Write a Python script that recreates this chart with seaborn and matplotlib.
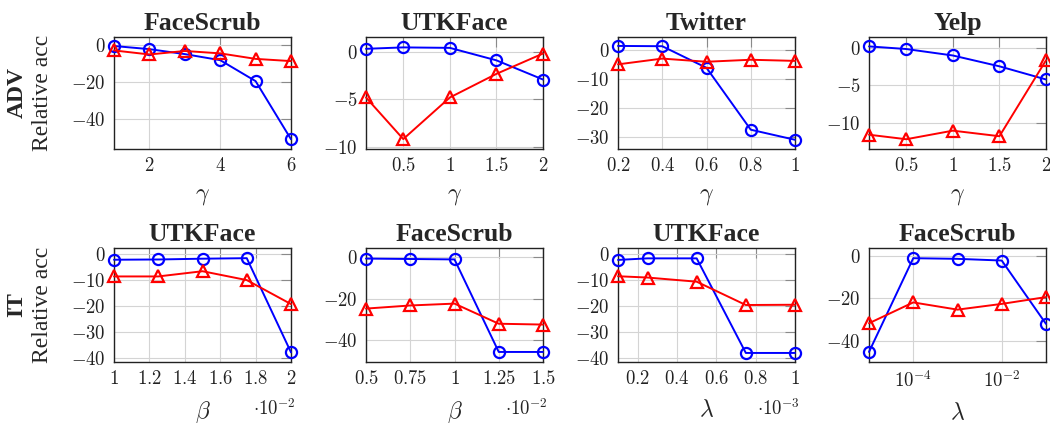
import matplotlib
matplotlib.use("Agg")
import matplotlib.pyplot as plt
import seaborn as sns
import pandas as pd

# ---------------- data ----------------
titles = ["FaceScrub", "UTKFace", "Twitter", "Yelp",
          "UTKFace", "FaceScrub", "UTKFace", "FaceScrub"]
row_names = ["ADV", "IT"]

x_p1 = [1, 2, 3, 4, 5, 6]
blue_p1 = [-0.5, -2.2, -4.9, -8.2, -19.6, -51.2]
red_p1 = [-2.9, -5.1, -3.2, -4.5, -7.5, -8.7]

x_p2 = [0.1, 0.5, 1.0, 1.5, 2.0]
blue_p2 = [0.35, 0.5, 0.45, -0.87, -2.9]
red_p2 = [-4.8, -9.2, -4.8, -2.3, -0.15]

x_p3 = [0.2, 0.4, 0.6, 0.8, 1.0]
blue_p3 = [1.5, 1.4, -6.1, -27.6, -31.1]
red_p3 = [-4.9, -2.9, -4.0, -3.3, -3.7]

x_p4 = [0.1, 0.5, 1.0, 1.5, 2.0]
blue_p4 = [0.15, -0.2, -1.06, -2.5, -4.25]
red_p4 = [-11.6, -12.2, -11.06, -11.8, -1.7]

x_p5 = [1.0, 1.25, 1.5, 1.75, 2.0]
blue_p5 = [-2.3, -2.2, -1.9, -1.7, -37.8]
red_p5 = [-8.7, -8.7, -6.7, -10.1, -19.3]

x_p6 = [0.5, 0.75, 1.0, 1.25, 1.5]
blue_p6 = [-0.6, -0.8, -1.0, -45.6, -45.6]
red_p6 = [-24.7, -23.2, -22.3, -32.0, -32.4]

x_p7 = [0.1, 0.25, 0.5, 0.75, 1.0]
blue_p7 = [-2.2, -1.6, -1.6, -38.1, -38.1]
red_p7 = [-8.5, -9.0, -10.6, -19.6, -19.5]

x_p8 = [1e-5, 1e-4, 1e-3, 1e-2, 1e-1]
blue_p8 = [-45.3, -1.2, -1.5, -2.3, -32.1]
red_p8 = [-31.8, -22.0, -25.4, -22.7, -19.5]

xlabels = [r"$\gamma$"] * 4 + [r"$\beta$", r"$\beta$", r"$\lambda$", r"$\lambda$"]
scale_notes = [None, None, None, None,
               r"$\cdot 10^{-2}$", r"$\cdot 10^{-2}$", r"$\cdot 10^{-3}$", None]

xticks = [[2, 4, 6], [0.5, 1, 1.5, 2], [0.2, 0.4, 0.6, 0.8, 1], [0.5, 1, 1.5, 2],
          [1, 1.2, 1.4, 1.6, 1.8, 2], [0.5, 0.75, 1, 1.25, 1.5],
          [0.2, 0.4, 0.6, 0.8, 1], [1e-4, 1e-2]]
xticklabels = [["2", "4", "6"], ["0.5", "1", "1.5", "2"],
               ["0.2", "0.4", "0.6", "0.8", "1"], ["0.5", "1", "1.5", "2"],
               ["1", "1.2", "1.4", "1.6", "1.8", "2"],
               ["0.5", "0.75", "1", "1.25", "1.5"],
               ["0.2", "0.4", "0.6", "0.8", "1"], ["10^{-4}", "10^{-2}"]]
yticks = [[0, -20, -40], [0, -5, -10], [0, -10, -20, -30], [0, -5, -10],
          [0, -10, -20, -30, -40], [0, -20, -40], [0, -10, -20, -30, -40],
          [0, -20, -40]]
ylims = [(-56.5, 4.4), (-10.25, 1.6), (-34.3, 4.6), (-13.5, 1.4),
         (-41.3, 2.2), (-50.2, 4.5), (-41.4, 2.4), (-49.8, 3.6)]
xlims = [(1, 6), (0.1, 2), (0.2, 1), (0.1, 2), (1, 2), (0.5, 1.5), (0.1, 1), (1e-5, 1e-1)]

xs = [x_p1, x_p2, x_p3, x_p4, x_p5, x_p6, x_p7, x_p8]
blues = [blue_p1, blue_p2, blue_p3, blue_p4, blue_p5, blue_p6, blue_p7, blue_p8]
reds = [red_p1, red_p2, red_p3, red_p4, red_p5, red_p6, red_p7, red_p8]

# ---------------- style ----------------
sns.set_theme(style="white")
plt.rcParams["font.family"] = ["Liberation Serif", "DejaVu Serif"]
plt.rcParams["mathtext.fontset"] = "cm"

W, H = 1050, 423
fig = plt.figure(figsize=(W / 100, H / 100), dpi=100)

col_left = [114, 366, 618, 869]
ax_w = 177
row_top = [37, 248]
row_bot = [149, 361.5]


def fmt_num(v):
    return f"${v:g}$"


for i in range(8):
    r, c = divmod(i, 4)
    left = col_left[c] / W
    bottom = (H - row_bot[r]) / H
    height = (row_bot[r] - row_top[r]) / H
    ax = fig.add_axes([left, bottom, ax_w / W, height])
    if i == 7:
        ax.set_xscale("log")
    df = pd.DataFrame({"x": xs[i], "blue": blues[i], "red": reds[i]})
    sns.lineplot(data=df, x="x", y="blue", ax=ax, color="#0000ff", lw=1.4,
                 marker="o", markersize=8, markerfacecolor="none",
                 markeredgecolor="#0000ff", markeredgewidth=1.6, clip_on=False,
                 zorder=4)
    sns.lineplot(data=df, x="x", y="red", ax=ax, color="#ff0000", lw=1.4,
                 marker="^", markersize=8, markerfacecolor="none",
                 markeredgecolor="#ff0000", markeredgewidth=1.6, clip_on=False,
                 zorder=5)
    ax.set_xlim(*xlims[i])
    ax.set_ylim(*ylims[i])
    ax.set_xticks(xticks[i])
    ax.set_xticklabels(["$" + t + "$" for t in xticklabels[i]])
    ax.minorticks_off()
    ax.set_yticks(yticks[i])
    ax.set_yticklabels([fmt_num(v) for v in yticks[i]])
    ax.tick_params(direction="in", top=True, right=True, length=7, width=0.8,
                   color="#8a8a8a", labelsize=13.5, labelcolor="#222222", pad=6)
    ax.grid(True, color="#d4d4d4", lw=0.8)
    for sp in ax.spines.values():
        sp.set_color("#222222")
        sp.set_linewidth(1.0)
    ax.set_ylabel("")
    ax.set_xlabel(xlabels[i], fontsize=17, labelpad=8)
    ax.set_title(titles[i], fontsize=18.5, fontweight="bold", pad=5)
    if scale_notes[i]:
        ax.text(1.03, -0.41, scale_notes[i], transform=ax.transAxes,
                ha="right", va="center", fontsize=13.5)

for r in range(2):
    yc = 1 - (row_top[r] + row_bot[r]) / 2 / H
    fig.text(17 / W, yc, row_names[r], rotation=90, ha="center", va="center",
             fontsize=17, fontweight="bold")
    fig.text(43 / W, yc, "Relative acc", rotation=90, ha="center", va="center",
             fontsize=17)

fig.savefig("out.png", dpi=100)
